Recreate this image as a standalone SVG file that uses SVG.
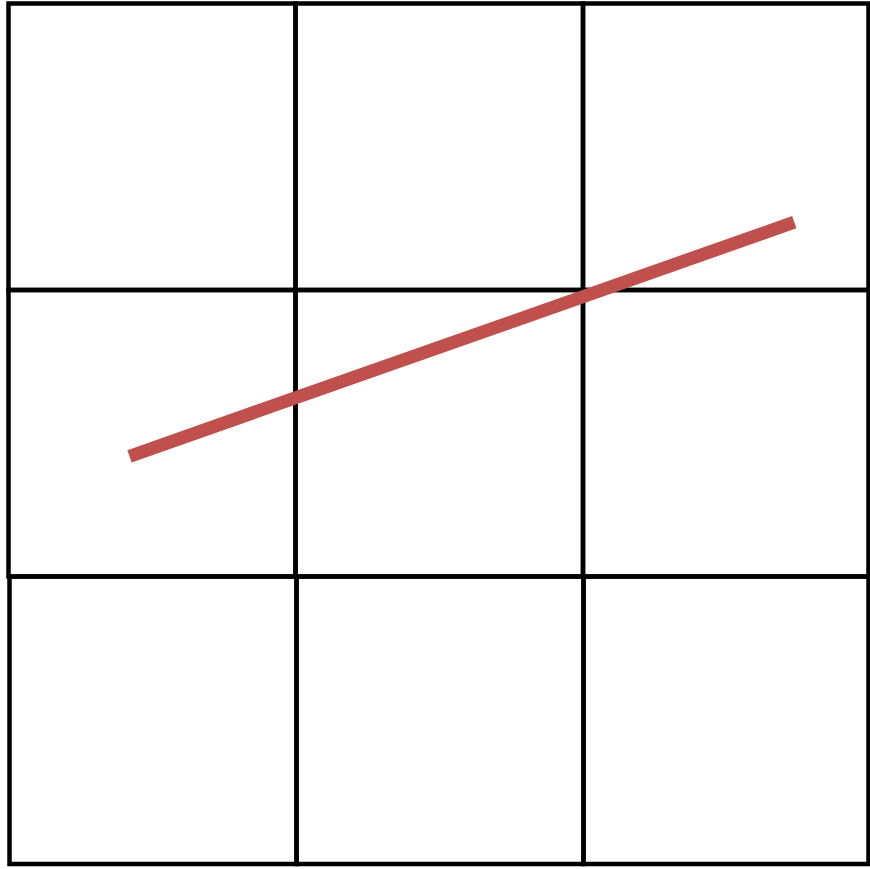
<svg xmlns="http://www.w3.org/2000/svg" width="870" height="869" viewBox="0 0 870 869">
<style>
.cell{fill:none;stroke:#000;stroke-width:4.5}
.seg{stroke:#C0504D;stroke-width:13;fill:none}
</style>
<rect width="870" height="869" fill="#fff"/>
<g id="grid">
<rect id="c11" class="cell" x="8.5" y="3.5" width="287" height="286.5"/>
<rect id="c12" class="cell" x="295.5" y="3.5" width="287.5" height="286.5"/>
<rect id="c13" class="cell" x="583" y="3.5" width="285.5" height="286.5"/>
<rect id="c21" class="cell" x="8.5" y="290" width="287" height="286.5"/>
<rect id="c22" class="cell" x="295.5" y="290" width="287.5" height="286.5"/>
<rect id="c23" class="cell" x="583" y="290" width="285.5" height="286.5"/>
<rect id="c31" class="cell" x="9.5" y="576.5" width="287" height="287.5"/>
<rect id="c32" class="cell" x="296.5" y="576.5" width="287" height="287.5"/>
<rect id="c33" class="cell" x="583.5" y="576.5" width="285" height="287.5"/>
</g>
<g id="connectors">
<line class="seg" x1="129.5" y1="456.3" x2="794.3" y2="222.2"/>
</g>
</svg>
